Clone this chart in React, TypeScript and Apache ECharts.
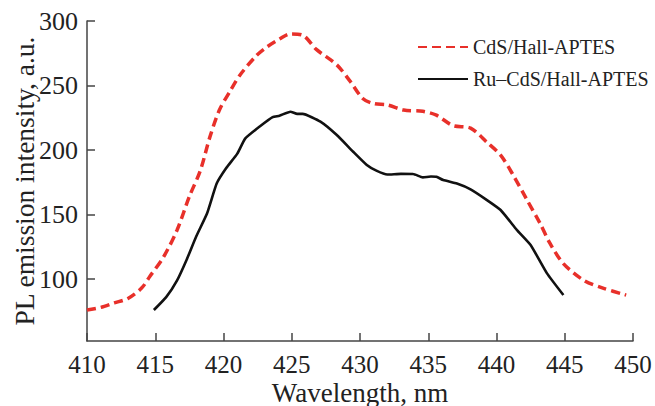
import React, { useEffect, useRef } from "react";
import * as echarts from "echarts";

const cdsWavelength = [410, 411, 412, 413, 414, 414.6, 415.6, 416.6, 417.5, 418.3, 419, 419.7, 420.5, 421.2, 422.4, 423.2, 424.1, 424.9, 425.8, 426.8, 428.3, 429.3, 430.2, 431, 432, 433.2, 434.6, 435.6, 436.8, 438.1, 439.3, 440.3, 441.2, 442.2, 443.2, 443.9, 444.9, 446.4, 447.8, 449.5];
const cdsIntensity = [76, 78, 81.5, 85, 93, 102, 117, 138, 164, 184, 210, 231, 246, 258, 273, 280, 286, 290, 289, 278, 266, 253, 240, 236, 235, 231, 230, 227, 219, 217, 206, 196, 181, 162, 143, 128, 112, 99, 93, 87.6];

const ruWavelength = [414.9, 415.8, 416.6, 417.3, 418, 418.8, 419.5, 420.2, 421, 421.6, 422.7, 423.6, 424.1, 424.9, 425.4, 425.8, 427.1, 428.3, 429.5, 430.5, 431.2, 432, 433, 433.9, 434.6, 435.2, 435.6, 436.1, 437.1, 438.1, 439.3, 440.3, 441.5, 442.5, 443.7, 444.9];
const ruIntensity = [76, 86, 99, 115, 133, 151, 174, 186, 197, 209, 218.6, 225.5, 226.6, 229.7, 228, 228, 222, 211.6, 198.7, 188.4, 184, 181, 181.5, 181.4, 178.8, 179.5, 179.3, 176.7, 174, 169.5, 161.2, 153.5, 138, 126.4, 104.4, 87.6];

const yTicks = [100, 150, 200, 250, 300];
const seriesNames = ["CdS/Hall-APTES", "Ru–CdS/Hall-APTES"];

const FONT = "'Liberation Serif', 'Times New Roman', serif";

export default function App() {
  const ref = useRef<HTMLDivElement>(null);
  useEffect(() => {
    if (!ref.current) return;
    const chart = echarts.init(ref.current, undefined, { renderer: "svg" });
    const cds = cdsWavelength.map((x, i) => [x, cdsIntensity[i]]);
    const ru = ruWavelength.map((x, i) => [x, ruIntensity[i]]);
    chart.setOption({
      animation: false,
      backgroundColor: "#ffffff",
      textStyle: { fontFamily: FONT },
      grid: { left: 87, right: 22, top: 21, bottom: 65, containLabel: false, outerBoundsMode: "none" },
      legend: {
        orient: "vertical",
        left: 412,
        top: 32,
        itemWidth: 50,
        itemHeight: 14,
        itemGap: 12,
        itemStyle: { opacity: 0 },
        textStyle: { fontFamily: FONT, fontSize: 20, color: "#222" },
        data: seriesNames,
      },
      xAxis: {
        type: "value",
        min: 410,
        max: 450,
        interval: 5,
        name: "Wavelength, nm",
        nameLocation: "middle",
        nameGap: 38,
        nameMoveOverlap: false,
        nameTextStyle: { fontFamily: FONT, fontSize: 27, color: "#222" },
        axisLine: { show: true, lineStyle: { color: "#444", width: 1.5 } },
        axisTick: { show: true, inside: true, length: 8, lineStyle: { color: "#444", width: 1.5 } },
        axisLabel: { fontFamily: FONT, fontSize: 25, color: "#222", margin: 11 },
        splitLine: { show: false },
      },
      yAxis: {
        type: "value",
        min: 52,
        max: 300,
        name: "PL emission intensity, a.u.",
        nameLocation: "middle",
        nameGap: 49,
        nameMoveOverlap: false,
        nameTextStyle: { fontFamily: FONT, fontSize: 27.5, color: "#222" },
        axisLine: { show: true, lineStyle: { color: "#444", width: 1.5 } },
        axisTick: { show: true, inside: true, length: 8, customValues: yTicks, lineStyle: { color: "#444", width: 1.5 } },
        axisLabel: { fontFamily: FONT, fontSize: 26, color: "#222", margin: 9, customValues: yTicks },
        splitLine: { show: false },
      },
      series: [
        {
          name: seriesNames[0],
          type: "line",
          data: cds,
          smooth: 0.3,
          symbol: "none",
          lineStyle: { color: "#e8302a", width: 3.5, type: [9, 5] },
          itemStyle: { color: "#e8302a" },
        },
        {
          name: seriesNames[1],
          type: "line",
          data: ru,
          smooth: 0.15,
          symbol: "none",
          lineStyle: { color: "#111", width: 2.6 },
          itemStyle: { color: "#111" },
        },
      ],
    });
    return () => chart.dispose();
  }, []);
  return (
    <div
      ref={ref}
      style={{ position: "fixed", left: 0, top: 0, width: 655, height: 406, background: "#fff" }}
    />
  );
}
